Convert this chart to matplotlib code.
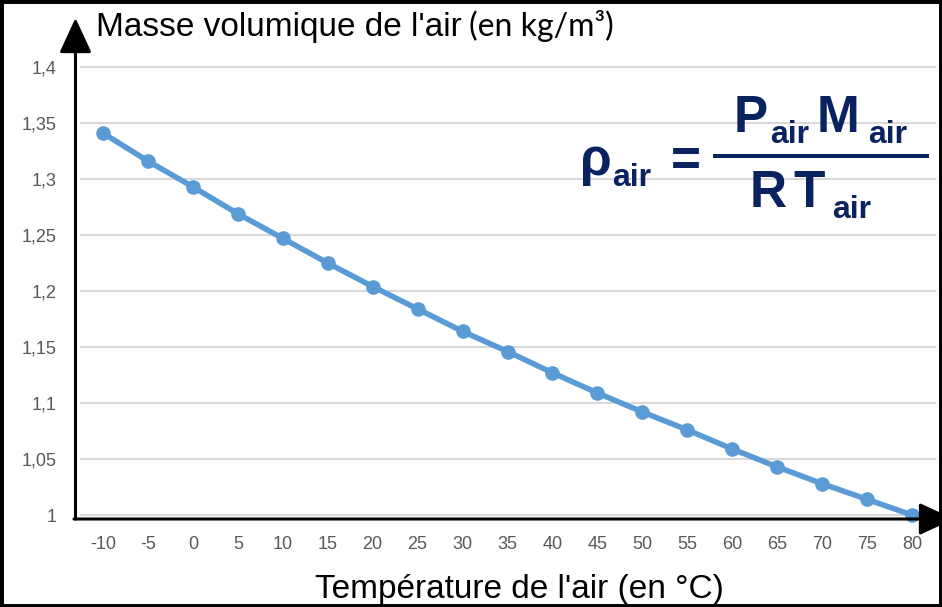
import matplotlib
matplotlib.use("Agg")
import matplotlib.pyplot as plt
from matplotlib.patches import Rectangle
from matplotlib.ticker import FuncFormatter

# air density vs temperature (kg/m3), at atmospheric pressure
temperatures = [-10, -5, 0, 5, 10, 15, 20, 25, 30, 35, 40, 45, 50, 55, 60, 65, 70, 75, 80]
densities = [1.341, 1.316, 1.293, 1.269, 1.247, 1.225, 1.204, 1.184, 1.164, 1.146,
             1.127, 1.109, 1.092, 1.076, 1.059, 1.043, 1.028, 1.014, 1.000]
y_ticks = [1.0, 1.05, 1.1, 1.15, 1.2, 1.25, 1.3, 1.35, 1.4]

W, H = 942, 607
plt.rcParams['font.family'] = ['Liberation Sans', 'DejaVu Sans']

fig = plt.figure(figsize=(W / 100, H / 100), dpi=100)


def fx(px):
    return px / W


def fy(py):
    # pixel rows counted from the top
    return 1 - py / H


# plot area
left, right, top, bottom = 80.5, 934.5, 67, 518.4
ax = fig.add_axes([fx(left), fy(bottom), fx(right - left), (bottom - top) / H])
ax.plot(temperatures, densities, color='#5b9bd5', lw=4, marker='o', ms=9.5,
        solid_capstyle='round', clip_on=False, zorder=3)
ax.set_xlim(-12.5, 82.5)
ax.set_ylim(0.997, 1.4)
ax.set_xticks(temperatures)
ax.set_yticks(y_ticks)
ax.yaxis.set_major_formatter(FuncFormatter(lambda v, p: f"{v:g}".replace('.', ',')))
ax.xaxis.set_major_formatter(FuncFormatter(lambda v, p: f"{v:g}"))
ax.tick_params(length=0, labelsize=13, colors='#595959')
ax.tick_params(axis='y', pad=17)
ax.tick_params(axis='x', pad=13)
ax.grid(axis='y', color='#d9d9d9', lw=1.5, clip_on=False)
ax.set_axisbelow(True)
for s in ax.spines.values():
    s.set_visible(False)

# axis arrows
arrow = dict(arrowstyle='-|>,head_length=2.16,head_width=1.0', mutation_scale=10,
             lw=2.2, color='black', shrinkA=0, shrinkB=0)
ax.annotate('', xy=(75.5, H - 18), xytext=(75.5, H - 519),
            xycoords='figure pixels', textcoords='figure pixels', arrowprops=arrow,
            annotation_clip=False)
ax.annotate('', xy=(954, H - 519), xytext=(74, H - 519),
            xycoords='figure pixels', textcoords='figure pixels', arrowprops=arrow,
            annotation_clip=False)

# titles
fig.text(fx(96), fy(36), "Masse volumique de l'air", fontsize=24, va='baseline')
fig.text(fx(469), fy(36), "(en kg/m³)", fontsize=23, va='baseline',
         family=['Lato', 'DejaVu Sans'])
fig.text(fx(519), fy(598), "Température de l'air (en °C)", fontsize=24,
         ha='center', va='baseline')

# density formula
navy = '#0b2260'
big = dict(fontsize=37, fontweight='bold', color=navy, va='baseline')
small = dict(fontsize=23, fontweight='bold', color=navy, va='baseline')
fig.text(fx(580), fy(175), "ρ", **big)
fig.text(fx(612), fy(186), "air", **small)
fig.text(fx(686), fy(176), "=", ha='center', **big)
fig.add_artist(plt.Line2D([fx(715), fx(927)], [fy(156), fy(156)], color=navy, lw=2.9))
fig.text(fx(734), fy(132), "P", **big)
fig.text(fx(770), fy(143), "air", **small)
fig.text(fx(817), fy(132), "M", **big)
fig.text(fx(868), fy(143), "air", **small)
fig.text(fx(750), fy(207), "R", **big)
fig.text(fx(793), fy(207), "T", **big)
fig.text(fx(832), fy(218), "air", **small)

# frame around the figure
fig.patches.append(Rectangle((0, 0), 1, 1, transform=fig.transFigure, fill=False,
                             lw=5, ec='black'))

fig.savefig('out.png', dpi=100)
